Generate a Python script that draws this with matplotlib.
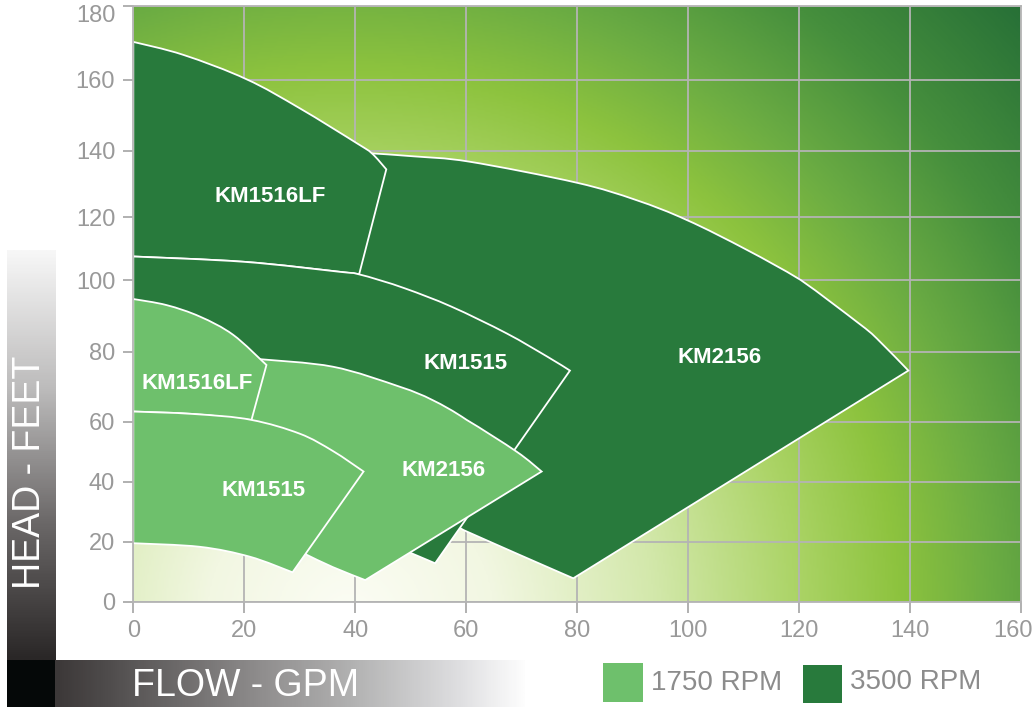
import numpy as np
import matplotlib
matplotlib.use("Agg")
import matplotlib.pyplot as plt
from matplotlib.colors import LinearSegmentedColormap
from matplotlib.patches import Rectangle, PathPatch
from matplotlib.path import Path
from matplotlib.transforms import ScaledTranslation

plt.rcParams["font.family"] = ["Liberation Sans", "DejaVu Sans"]

# ---- operating ranges (flow in GPM, head in feet) ----
# outline points go round each region; *_corners are the sharp vertices,
# the runs in between are the curved edges
# 3500 RPM
km2156_hi_flow = [41, 43, 50.6, 60.6, 79.9, 90.6, 99.8, 110.6, 120.3, 130.6, 134, 139.7,
                  79.3, 69.4, 59.5, 52, 45, 40, 40]
km2156_hi_head = [139.6, 139.2, 138.3, 136.7, 130.4, 125.2, 119.1, 109.6, 100, 88.1, 83.7, 74.6,
                  7.8, 15.8, 23.9, 32, 60, 100, 130]
km2156_hi_corners = [0, 1, 11, 12, 14, 15, 16, 17, 18]

km1516lf_hi_flow = [0, 9, 20.4, 30, 40.3, 43, 45.6, 40.7, 37.3, 20, 0]
km1516lf_hi_head = [170.3, 166.8, 160.2, 152, 142.1, 139.2, 134.4, 101.8, 102.6, 105.8, 107.5]
km1516lf_hi_corners = [0, 6, 7, 10]

km1515_hi_flow = [0, 20, 37.3, 40.7, 48.9, 57.3, 67.3, 74.6, 78.7, 54.4, 50.2, 40, 20, 0]
km1515_hi_head = [107.5, 105.8, 102.6, 101.8, 97.7, 92.6, 85.1, 78.6, 74.6, 12.8, 16.1, 24, 30, 32]
km1515_hi_corners = [0, 8, 9, 13]

# 1750 RPM
km2156_lo_flow = [21, 22.5, 36, 48, 53.9, 60.1, 69.1, 73.6, 41.8, 36, 31.3, 25, 20]
km2156_lo_head = [62, 77.9, 75.7, 70, 66.2, 60.5, 50.0, 43.4, 7.2, 11.5, 15.6, 25, 50]
km2156_lo_corners = [0, 1, 7, 8, 10, 11, 12]

km1516lf_lo_flow = [0, 6, 12, 18, 24, 21.3, 10.8, 0]
km1516lf_lo_head = [94.7, 93.0, 89.8, 84.7, 76.2, 60.5, 62.2, 62.9]
km1516lf_lo_corners = [0, 4, 5, 7]

km1515_lo_flow = [0, 10.8, 21.3, 30, 36, 41.5, 28.7, 21, 12, 0]
km1515_lo_head = [62.9, 62.2, 60.5, 56.0, 50.2, 43.4, 9.8, 15, 18.3, 19.5]
km1515_lo_corners = [0, 5, 6, 9]

label_text = ["KM1516LF", "KM2156", "KM1515", "KM1516LF", "KM2156", "KM1515"]
label_flow = [24.6, 105.6, 59.8, 11.6, 55.9, 23.4]
label_head = [126.2, 78.3, 76.7, 71.0, 43.9, 37.2]

x_ticks = [0, 20, 40, 60, 80, 100, 120, 140, 160]
y_ticks = [0, 20, 40, 60, 80, 100, 120, 140, 160, 180]
# the original artwork doesn't space the head ticks evenly (fraction of axis height)
y_tick_pos = [0.0, 0.1007, 0.2014, 0.3022, 0.4197, 0.5400, 0.6453, 0.7571, 0.8758, 1.0]

dark = "#287a3c"
light = "#6ec06c"

# piecewise scale so the grid sits where it does in the picture
yv = np.array(y_ticks, float)
yp = np.array(y_tick_pos)
yv_ext = np.r_[yv[0] - 1e4, yv, yv[-1] + 1e4]
yp_ext = np.r_[yp[0] - 1e4 * (yp[1] - yp[0]) / 20, yp, yp[-1] + 1e4 * (yp[-1] - yp[-2]) / 20]


def fwd(y):
    return np.interp(y, yv_ext, yp_ext)


def inv(u):
    return np.interp(u, yp_ext, yv_ext)


def outline(flow, head, corners):
    # straight edges between corners, smooth bezier (catmull-rom style) along the curved runs
    pts = np.column_stack([flow, head]).astype(float)
    n = len(pts)
    cs = sorted(set(corners) | {0})
    verts = [pts[0]]
    codes = [Path.MOVETO]
    for a, b in zip(cs, cs[1:] + [n]):
        run = np.array([pts[i % n] for i in range(a, b + 1)])
        if len(run) == 2:
            verts.append(run[1])
            codes.append(Path.LINETO)
            continue
        m = len(run)
        for k in range(m - 1):
            p0, p1 = run[max(k - 1, 0)], run[k]
            p2, p3 = run[k + 1], run[min(k + 2, m - 1)]
            verts += [p1 + (p2 - p0) / 6, p2 - (p3 - p1) / 6, p2]
            codes += [Path.CURVE4] * 3
    verts.append(pts[0])
    codes.append(Path.CLOSEPOLY)
    return Path(verts, codes)


W, H = 1036, 707
fig = plt.figure(figsize=(W / 100, H / 100), dpi=100, facecolor="white")
ax = fig.add_axes([133.3 / W, (H - 601.7) / H, (1021 - 133.3) / W, 595.7 / H])

# background: radial green glow from the bottom left
gx = np.linspace(133, 1021, 444)
gy = np.linspace(6, 602, 298)
GX, GY = np.meshgrid(gx, gy)
R = np.hypot(GX - 350, GY - 620) / 950
bg_cmap = LinearSegmentedColormap.from_list("bg", [
    (0.0, "#fcfdf5"), (0.15, "#f2f7e2"), (0.32, "#d3e8ab"), (0.47, "#acd467"),
    (0.58, "#8dc33e"), (0.68, "#6bac43"), (0.8, "#468f3d"), (1.0, "#1f6835")])
ax.imshow(R, cmap=bg_cmap, vmin=0, vmax=1, extent=(0, 1, 0, 1), origin="upper",
          transform=ax.transAxes, aspect="auto", zorder=0, interpolation="bilinear")

ax.set_yscale("function", functions=(fwd, inv))
ax.set_xlim(0, 160)
ax.set_ylim(0, 180)
ax.set_xticks(x_ticks)
ax.set_yticks(y_ticks)
ax.set_axisbelow(True)
ax.grid(True, color="#b4b4b4", lw=1.3)
for s in ax.spines.values():
    s.set_color("#b4b4b4")
    s.set_linewidth(1.3)
ax.tick_params(colors="#aaaaaa", labelcolor="#999999", labelsize=17, width=1.3)
ax.tick_params(axis="x", length=8, pad=5)
ax.tick_params(axis="y", length=7, pad=6)

# keep the end labels inside the picture like the original
lbl = ax.get_yticklabels()[-1]
lbl.set_transform(lbl.get_transform() + ScaledTranslation(0, -0.07, fig.dpi_scale_trans))
lbl = ax.get_xticklabels()[-1]
lbl.set_transform(lbl.get_transform() + ScaledTranslation(-0.08, 0, fig.dpi_scale_trans))

shapes = [
    (km2156_hi_flow, km2156_hi_head, km2156_hi_corners, dark),
    (km1516lf_hi_flow, km1516lf_hi_head, km1516lf_hi_corners, dark),
    (km1515_hi_flow, km1515_hi_head, km1515_hi_corners, dark),
    (km2156_lo_flow, km2156_lo_head, km2156_lo_corners, light),
    (km1516lf_lo_flow, km1516lf_lo_head, km1516lf_lo_corners, light),
    (km1515_lo_flow, km1515_lo_head, km1515_lo_corners, light),
]
for i, (f, h, c, col) in enumerate(shapes):
    ax.add_patch(PathPatch(outline(f, h, c), facecolor=col, edgecolor="white",
                           lw=1.3, zorder=2 + i * 0.1))

for t, f, h in zip(label_text, label_flow, label_head):
    ax.text(f, h, t, color="white", fontsize=16, fontweight="bold",
            ha="center", va="center", zorder=5)

# axis title bars
gray_v = LinearSegmentedColormap.from_list("gv", ["#f7f7f7", "#bdbcbc", "#6b6868", "#2a2727"])
bar_y = fig.add_axes([7 / W, (H - 660) / H, 49 / W, 410 / H])
bar_y.imshow(np.linspace(0, 1, 200)[:, None], cmap=gray_v, aspect="auto")
bar_y.axis("off")

gray_h = LinearSegmentedColormap.from_list("gh", [
    (0.0, "#3c3838"), (0.11, "#4f4c4c"), (0.415, "#8b8989"), (0.645, "#b4b4b4"),
    (0.87, "#e0e0e2"), (1.0, "#fdfdfd")])
bar_x = fig.add_axes([55 / W, 0, 470 / W, 47 / H])
bar_x.imshow(np.linspace(0, 1, 300)[None, :], cmap=gray_h, aspect="auto")
bar_x.axis("off")

fig.add_artist(Rectangle((7 / W, 0), 48 / W, 47 / H, transform=fig.transFigure,
                         facecolor="#050808", edgecolor="none"))

fig.text(30 / W, 1 - 472 / H, "HEAD - FEET", rotation=90, color="white",
         fontsize=27, ha="center", va="center")
fig.text(246 / W, 1 - 686 / H, "FLOW - GPM", color="white",
         fontsize=27, ha="center", va="center")

# legend
fig.add_artist(Rectangle((603 / W, 1 - 702 / H), 40 / W, 39 / H, transform=fig.transFigure,
                         facecolor=light, edgecolor="none"))
fig.text(651 / W, 1 - 683 / H, "1750 RPM", color="#8c8c8c", fontsize=20, va="center")
fig.add_artist(Rectangle((803 / W, 1 - 703 / H), 39 / W, 38 / H, transform=fig.transFigure,
                         facecolor=dark, edgecolor="none"))
fig.text(850 / W, 1 - 682 / H, "3500 RPM", color="#8c8c8c", fontsize=20, va="center")

fig.savefig("out.png", dpi=100)
